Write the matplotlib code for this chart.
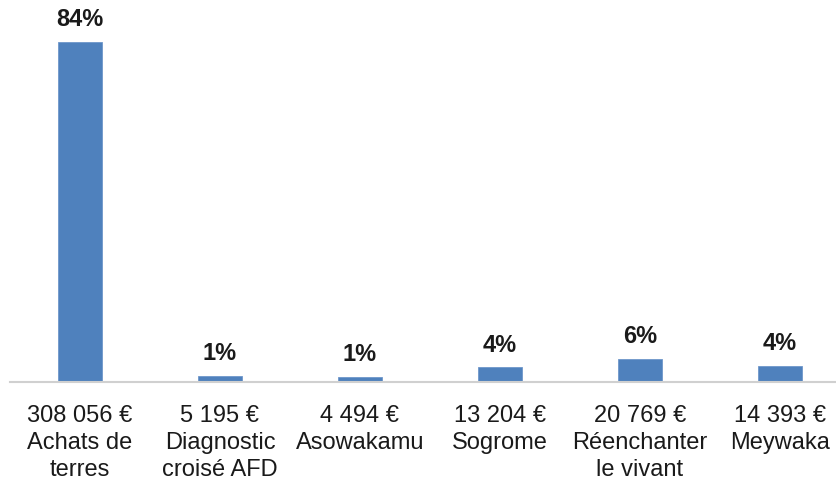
import matplotlib
matplotlib.use("Agg")
import matplotlib.pyplot as plt

# Data
projects = ["Achats de\nterres", "Diagnostic\ncroisé AFD", "Asowakamu",
            "Sogrome", "Réenchanter\nle vivant", "Meywaka"]
amounts = [308056, 5195, 4494, 13204, 20769, 14393]
amount_labels = ["308 056 €", "5 195 €", "4 494 €",
                 "13 204 €", "20 769 €", "14 393 €"]

plt.rcParams["font.family"] = ["Liberation Sans", "DejaVu Sans"]

total = sum(amounts)
shares = [a / total * 100 for a in amounts]


def main():
    fig = plt.figure(figsize=(8.36, 4.85), dpi=100)
    ax = fig.add_axes([10 / 836, 102 / 485, 840 / 836, 383 / 485])

    x = list(range(len(projects)))
    bars = ax.bar(x, amounts, width=0.315, color="#4f81bd",
                  edgecolor="#6f97cb", linewidth=0.6, zorder=2)

    for b, s in zip(bars, shares):
        ax.annotate(f"{s:.0f}%", (b.get_x() + b.get_width() / 2, b.get_height()),
                    xytext=(0, 8.5), textcoords="offset points",
                    ha="center", va="bottom", fontsize=17, fontweight="bold",
                    color="#1a1a1a")

    ax.set_xlim(-0.5, len(projects) - 0.5)
    ax.set_ylim(0, 347000)
    ax.set_xticks(x)
    ax.set_xticklabels([f"{a}\n{p}" for a, p in zip(amount_labels, projects)],
                       fontsize=17, color="#1a1a1a", linespacing=1.28,
                       va="top")
    ax.tick_params(axis="x", length=0, pad=16)
    ax.set_yticks([])
    for side in ["top", "right", "left"]:
        ax.spines[side].set_visible(False)
    ax.spines["bottom"].set_color("#d0d0d0")
    ax.spines["bottom"].set_linewidth(1.5)
    ax.set_facecolor("none")

    fig.savefig("out.png", dpi=100)


main()
